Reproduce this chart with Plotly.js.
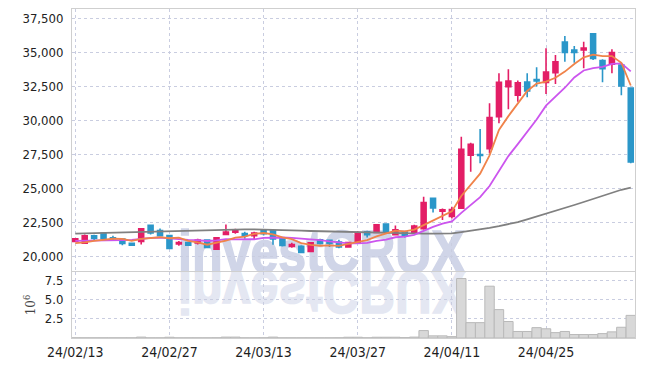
<!DOCTYPE html>
<html>
<head>
<meta charset="utf-8">
<script src="https://cdn.plot.ly/plotly-3.0.1.min.js"></script>
<style>
  html, body { margin: 0; padding: 0; background: #ffffff; }
  #chart { width: 645px; height: 366px; }
</style>
</head>
<body>
<div id="chart"></div>
<script>
// ---- data ----
const dates = [
  "24/02/13","24/02/14","24/02/15","24/02/16","24/02/19","24/02/20","24/02/21","24/02/22","24/02/23","24/02/26",
  "24/02/27","24/02/28","24/02/29","24/03/04","24/03/05","24/03/06","24/03/07","24/03/08","24/03/11","24/03/12",
  "24/03/13","24/03/14","24/03/15","24/03/18","24/03/19","24/03/20","24/03/21","24/03/22","24/03/25","24/03/26",
  "24/03/27","24/03/28","24/03/29","24/04/01","24/04/02","24/04/03","24/04/04","24/04/05","24/04/08","24/04/09",
  "24/04/11","24/04/12","24/04/15","24/04/16","24/04/17","24/04/18","24/04/19","24/04/22","24/04/23","24/04/24",
  "24/04/25","24/04/26","24/04/29","24/04/30","24/05/02","24/05/03","24/05/07","24/05/08","24/05/09","24/05/10"
];
const openPrices = [
  21100,20980,21520,21720,21370,21280,20960,21100,22280,21910,
  21540,20910,21030,21000,21200,20540,21620,21790,21690,21520,
  21890,21890,21300,20740,20740,20370,21230,21180,21050,20690,
  20980,21810,21770,22380,21590,21790,21720,22030,24280,23330,
  22930,23550,27430,27480,27920,30270,32480,31840,32820,32990,
  32790,33500,35760,35170,35170,36350,34390,34120,34070,32380
];
const highPrices = [
  21340,21620,21590,21770,21520,21330,21000,22080,22350,22060,
  21560,21130,21060,21300,21270,21420,22350,22030,21810,21810,
  22010,21960,21300,21000,20830,21050,21300,21230,21230,21080,
  21860,21890,22330,22400,22280,21840,22330,24380,24320,23520,
  23650,28800,28360,29360,31250,33460,33750,32920,33460,33900,
  35290,34800,36200,35470,35780,36350,34490,35220,34240,32430
];
const lowPrices = [
  21050,20910,21180,21180,21150,20830,20800,20880,21620,21470,
  20590,20780,20800,20880,20660,20510,21590,21670,21300,21270,
  21540,20860,20740,20640,20290,20340,20880,20690,20610,20640,
  20930,21400,21770,21810,21540,21400,21670,21960,23230,22680,
  22780,23500,26230,26840,27570,29780,30810,31370,31690,32480,
  31940,32670,34310,34240,33820,34440,32790,33460,31840,26840
];
const closePrices = [
  21300,21520,21320,21320,21300,20960,20830,22030,21720,21520,
  20590,21030,20830,21200,20660,21370,21790,21890,21540,21720,
  21670,21280,20810,20880,20290,21000,20960,20960,20690,21030,
  21740,21590,22330,21840,21960,21520,22230,23960,23560,23420,
  23440,27870,28240,27420,30200,32790,32890,32750,32160,32900,
  33550,34310,34980,34980,35320,34540,33800,34980,32530,26940
];
const ma5 = [
  20980,21030,21150,21225,21300,21284,21146,21288,21368,21412,
  21338,21378,21138,21034,20862,21018,21170,21382,21450,21662,
  21722,21620,21404,21272,20986,20852,20788,20818,20780,20928,
  21076,21202,21476,21706,21892,21848,21976,22300,22640,22930,
  23310,24440,25300,26080,27430,29300,30310,31210,32160,32700,
  32850,33130,33580,34140,34630,34830,34720,34720,34230,32560
];
const ma10 = [
  21150,21170,21160,21170,21220,21200,21210,21300,21360,21382,
  21311,21262,21213,21201,21137,21178,21274,21260,21242,21262,
  21370,21395,21393,21361,21324,21287,21204,21111,21026,20957,
  20964,20995,21147,21243,21410,21462,21589,21890,22170,22410,
  22580,23206,23797,24355,25179,26306,27372,28255,29118,30065,
  31077,31721,32395,33151,33663,33838,33929,34152,34189,33593
];
const ma60 = [
  21680,21700,21720,21740,21760,21780,21800,21820,21840,21860,
  21880,21900,21920,21940,21960,21970,21980,21990,21990,21990,
  21980,21960,21940,21920,21900,21870,21850,21830,21810,21790,
  21770,21750,21730,21710,21700,21690,21680,21680,21680,21690,
  21700,21790,21880,21970,22100,22230,22370,22530,22730,22930,
  23140,23360,23580,23780,24000,24230,24450,24680,24900,25050
];
const volumeMillions = [
  0.02,0.02,0.02,0.02,0.02,0.02,0.02,0.12,0.02,0.02,
  0.10,0.02,0.02,0.02,0.02,0.03,0.12,0.12,0.02,0.02,
  0.03,0.12,0.02,0.02,0.02,0.02,0.02,0.02,0.03,0.10,
  0.10,0.03,0.10,0.10,0.10,0.05,0.12,0.97,0.28,0.28,
  0.18,7.75,2.00,2.00,6.75,3.70,2.15,0.85,0.85,1.35,
  1.20,0.70,0.85,0.45,0.45,0.45,0.57,0.80,1.40,2.95
];
const priceTicks = [20000,22500,25000,27500,30000,32500,35000,37500];
const volumeTicks = [2.5,5.0,7.5];
const dateTicks = dates.filter((d, i) => i % 10 === 0);

// ---- styles ----
const RED = '#e31e66';
const BLUE = '#2b97c9';
const GRID = '#c9cde0';
const AXISLINE = '#cfcfcf';
const NARROW = 'DejaVu Sans Condensed, Liberation Sans Narrow, Roboto, sans-serif';
const TICKFONT = {family: NARROW, size: 13, color: '#222222'};

const traces = [
  {
    type: 'candlestick', x: dates,
    open: openPrices, high: highPrices, low: lowPrices, close: closePrices,
    xaxis: 'x', yaxis: 'y',
    increasing: {line: {color: RED, width: 1.6}, fillcolor: RED},
    decreasing: {line: {color: BLUE, width: 1.6}, fillcolor: BLUE},
    whiskerwidth: 0, hoverinfo: 'skip', showlegend: false
  },
  {type: 'scatter', mode: 'lines', x: dates, y: ma60, xaxis: 'x', yaxis: 'y',
   line: {color: '#808080', width: 1.8}, hoverinfo: 'skip', showlegend: false},
  {type: 'scatter', mode: 'lines', x: dates, y: ma10, xaxis: 'x', yaxis: 'y',
   line: {color: '#cc55ee', width: 1.8}, hoverinfo: 'skip', showlegend: false},
  {type: 'scatter', mode: 'lines', x: dates, y: ma5, xaxis: 'x', yaxis: 'y',
   line: {color: '#f0834a', width: 1.8}, hoverinfo: 'skip', showlegend: false},
  {type: 'bar', x: dates, y: volumeMillions, xaxis: 'x', yaxis: 'y2',
   marker: {color: '#d8d8d8', line: {color: '#b9b9b9', width: 1}},
   hoverinfo: 'skip', showlegend: false}
];

const layout = {
  width: 645, height: 366,
  margin: {l: 72, r: 10, t: 9, b: 28},
  paper_bgcolor: '#ffffff', plot_bgcolor: 'rgba(0,0,0,0)',
  showlegend: false, bargap: 0, boxgap: 0.25,
  xaxis: {
    type: 'category', anchor: 'y2', range: [-0.35, 59.45],
    rangeslider: {visible: false},
    tickmode: 'array', tickvals: dateTicks, ticktext: dateTicks,
    tickfont: {family: NARROW, size: 14, color: '#1e1e1e'},
    ticks: 'outside', ticklen: 1, tickcolor: 'rgba(0,0,0,0)',
    showgrid: true, gridcolor: GRID, griddash: 'dot', gridwidth: 1,
    showline: true, linecolor: AXISLINE, linewidth: 1, mirror: 'all',
    zeroline: false, fixedrange: true
  },
  yaxis: {
    domain: [0.2036, 1], range: [18930, 38180],
    tickmode: 'array', tickvals: priceTicks, tickformat: ',d',
    tickfont: TICKFONT,
    ticks: 'outside', ticklen: 5, tickcolor: 'rgba(0,0,0,0)',
    showgrid: true, gridcolor: GRID, griddash: 'dot', gridwidth: 1,
    showline: true, linecolor: AXISLINE, linewidth: 1, mirror: true,
    zeroline: false, fixedrange: true
  },
  yaxis2: {
    domain: [0, 0.2006], range: [0, 8.6],
    tickmode: 'array', tickvals: volumeTicks, tickformat: '.1f',
    tickfont: TICKFONT,
    ticks: 'outside', ticklen: 5, tickcolor: 'rgba(0,0,0,0)',
    showgrid: true, gridcolor: GRID, griddash: 'dot', gridwidth: 1,
    showline: true, linecolor: AXISLINE, linewidth: 1, mirror: true,
    zeroline: false, fixedrange: true,
    title: {text: '10<sup>6</sup>', standoff: 6,
            font: {family: 'DejaVu Serif, serif', size: 12, color: '#444444'}}
  }
};

Plotly.newPlot('chart', traces, layout, {staticPlot: true, displayModeBar: false}).then(function (gd) {
  // decorative "investCRUX" watermark with reflection, behind the grid and marks
  const ns = 'http://www.w3.org/2000/svg';
  const svg = gd.querySelector('svg.main-svg');
  const cart = svg.querySelector('.cartesianlayer');
  const g = document.createElementNS(ns, 'g');
  g.setAttribute('class', 'watermark');
  const mk = function (fill, transform) {
    const t = document.createElementNS(ns, 'text');
    t.textContent = 'investCRUX';
    t.setAttribute('x', '178');
    t.setAttribute('y', '272');
    t.setAttribute('font-family', 'Liberation Sans, Arial, sans-serif');
    t.setAttribute('font-weight', 'bold');
    t.setAttribute('font-size', '60');
    t.setAttribute('textLength', '287');
    t.setAttribute('lengthAdjust', 'spacingAndGlyphs');
    t.setAttribute('fill', fill);
    t.setAttribute('stroke', fill);
    t.setAttribute('stroke-width', '1.5');
    if (transform) t.setAttribute('transform', transform);
    return t;
  };
  g.appendChild(mk('#d0d5e8', null));
  g.appendChild(mk('#e4e7f2', 'translate(0,544) scale(1,-1)'));
  svg.insertBefore(g, cart);
});
</script>
</body>
</html>
